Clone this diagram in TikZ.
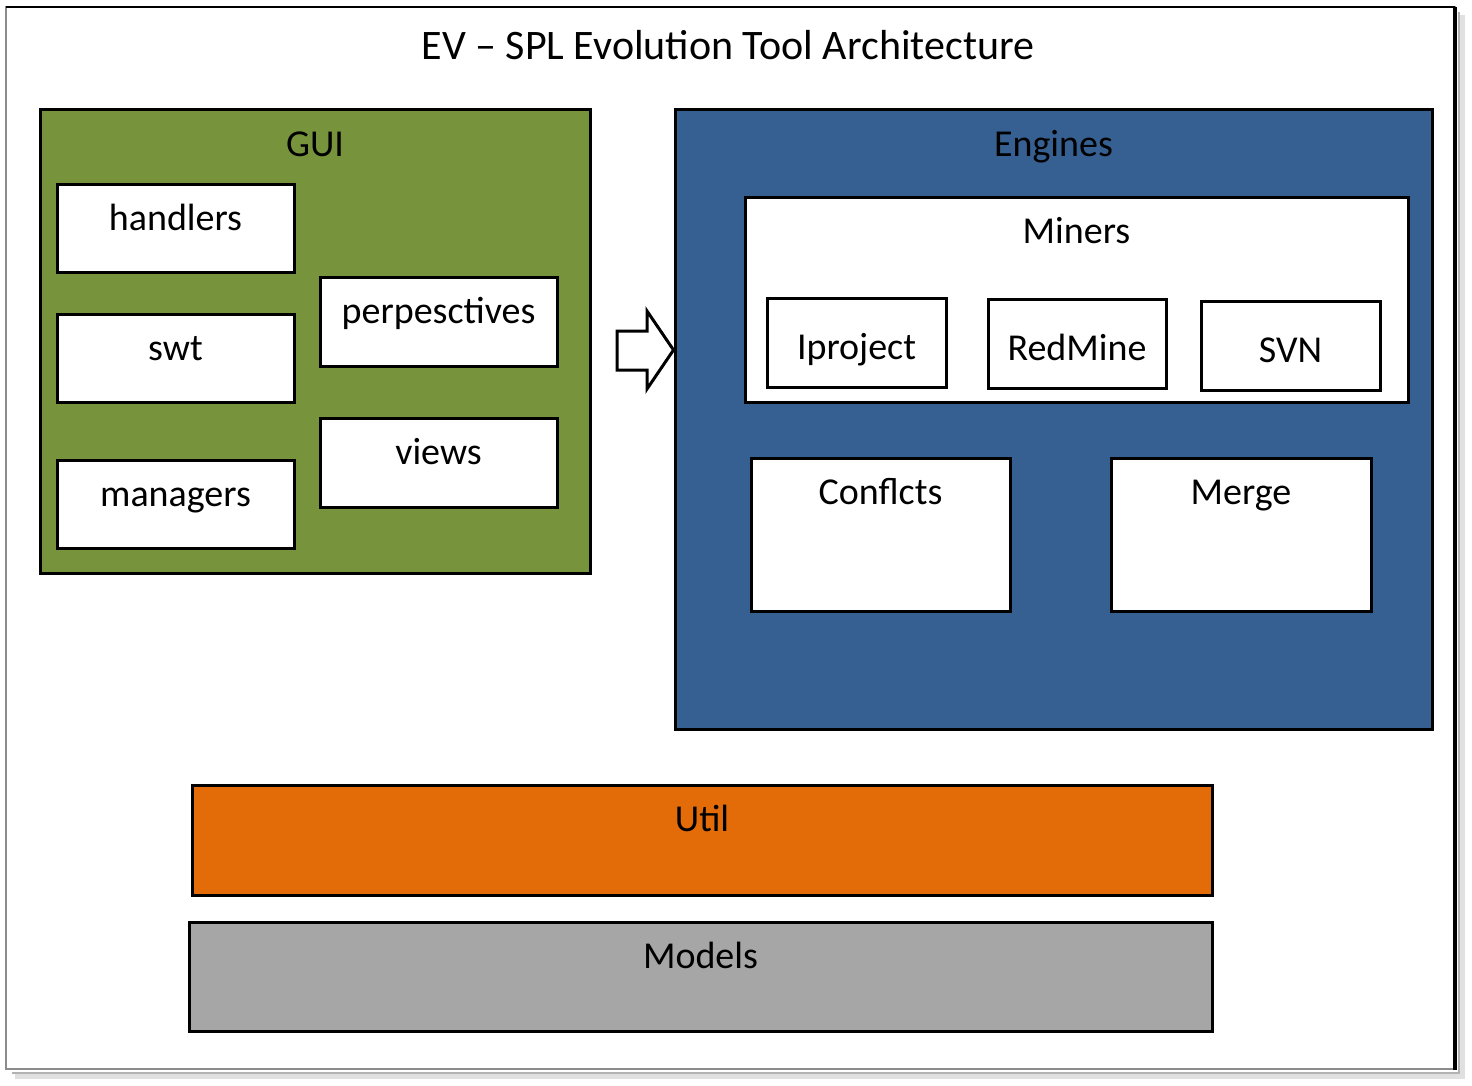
\documentclass[tikz,border=0pt]{standalone}
\usepackage{fontspec}
\setmainfont{Carlito}
\usetikzlibrary{fit,calc}
\definecolor{guigreen}{HTML}{77933C}
\definecolor{engblue}{HTML}{376092}
\definecolor{utilorange}{HTML}{E36C09}
\definecolor{modgray}{HTML}{A6A6A6}
\begin{document}
\begin{tikzpicture}[x=0.5pt,y=-0.5pt,
  box/.style={draw=black, line width=1.5pt, inner sep=0pt, fill=white},
  lbl/.style={anchor=base, font=\fontsize{19}{22}\selectfont, inner sep=0pt},
  toplbl/.style={lbl, yshift=-24pt},
  midlbl/.style={lbl, yshift=-31.5pt},
]
\useasboundingbox (0,0) rectangle (1472,1086);
\fill[white] (0,0) rectangle (1472,1086);
% frame with shadow
\draw[black!12, line width=2.5pt] (1462,15) -- (1462,1076) -- (15,1076);
\draw[black!30, line width=1.2pt] (1459,12) -- (1459,1073) -- (12,1073);
\draw[black!45, line width=0.8pt] (6,7) rectangle (1455,1069);
\draw[black, line width=1.3pt] (6,7) -- (1455,7);
\draw[black, line width=2pt] (1455,7) -- (1455,1070);

% title
\node[lbl, font=\fontsize{21}{24}\selectfont] (title) at (728,60) {EV – SPL Evolution Tool Architecture};

% GUI
\node[box, fill=guigreen, fit={(40,110) (590,573)}] (gui) {};
\node[toplbl] (guil) at (gui.north) {GUI};
\node[box, fit={(57,184) (294,272)}] (handlers) {};
\node[toplbl] at (handlers.north) {handlers};
\node[box, fit={(57,314) (294,402)}] (swt) {};
\node[toplbl] at (swt.north) {swt};
\node[box, fit={(57,460) (294,548)}] (managers) {};
\node[toplbl] at (managers.north) {managers};
\node[box, fit={(320,277) (557,366)}] (persp) {};
\node[toplbl] at (persp.north) {perpesctives};
\node[box, fit={(320,418) (557,507)}] (views) {};
\node[toplbl] at (views.north) {views};

% Engines
\node[box, fill=engblue, fit={(675,110) (1432,729)}] (eng) {};
\node[toplbl] at (eng.north) {Engines};
\node[box, fit={(745,197) (1408,402)}] (miners) {};
\node[toplbl] at (miners.north) {Miners};
\node[box, fit={(767,298) (946,387)}] (iproj) {};
\node[midlbl] at (iproj.north) {Iproject};
\node[box, fit={(988,299) (1166,388)}] (redmine) {};
\node[midlbl] at (redmine.north) {RedMine};
\node[box, fit={(1201,301) (1380,390)}] (svn) {};
\node[midlbl] at (svn.north) {SVN};
\node[box, fit={(751,458) (1010,611)}] (confl) {};
\node[toplbl] at (confl.north) {Conflcts};
\node[box, fit={(1111,458) (1371,611)}] (merge) {};
\node[toplbl] at (merge.north) {Merge};

% block arrow GUI -> Engines
\draw[line width=1.5pt, fill=white, line join=miter]
  (617,331) -- (647,331) -- (647,311) -- (eng.west |- 0,350) -- (647,389) -- (647,370) -- (617,370) -- cycle;

% Util and Models
\node[box, fill=utilorange, fit={(192,785) (1212,895)}] (util) {};
\node[toplbl] at (util.north) {Util};
\node[box, fill=modgray, fit={(189,922) (1212,1031)}] (models) {};
\node[toplbl] at (models.north) {Models};
\end{tikzpicture}
\end{document}
